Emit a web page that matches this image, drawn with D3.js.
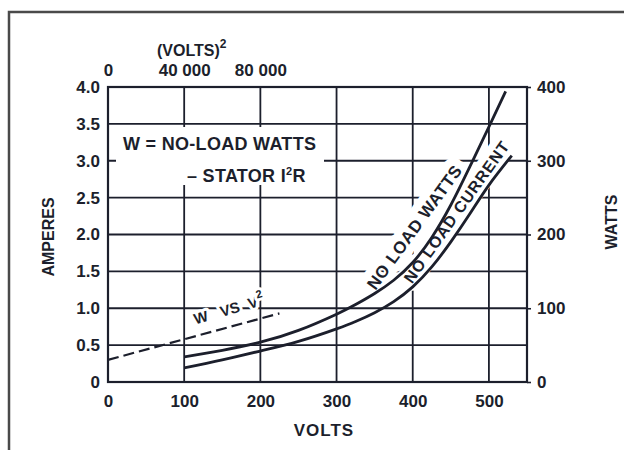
<!DOCTYPE html>
<html>
<head>
<meta charset="utf-8">
<script src="https://cdn.jsdelivr.net/npm/d3@7"></script>
<style>
body { margin: 0; background: #fff; }
text { font-family: "Liberation Sans", Arial, sans-serif; font-weight: bold; fill: #1c1f2c; }
</style>
</head>
<body>
<script>
// readings
var wattsVolts = [100, 150, 200, 250, 300, 325, 350, 375, 400, 425, 450, 475, 500, 522];
var noLoadWatts = [34, 43, 54, 70, 92, 105, 120, 138, 162, 196, 240, 292, 346, 394];
var currentVolts = [100, 150, 200, 250, 300, 325, 350, 375, 400, 425, 450, 475, 500, 530];
var noLoadAmps = [0.19, 0.30, 0.42, 0.55, 0.72, 0.82, 0.94, 1.09, 1.29, 1.56, 1.9, 2.28, 2.67, 3.07];
var voltsSquared = [0, 90000];
var correctedWatts = [30, 93];

var voltTicks = [0, 100, 200, 300, 400, 500];
var ampTicks = [0, 0.5, 1, 1.5, 2, 2.5, 3, 3.5, 4];
var wattTicks = [0, 100, 200, 300, 400];
var squareTicks = [0, 40000, 80000];
var squareLabels = ["0", "40 000", "80 000"];

var ink = "#1c1f2c";
var W = 624, H = 450;
var pLeft = 108, pRight = 527, pTop = 87, pBottom = 382;

var svg = d3.select("body").append("svg")
	.attr("width", W)
	.attr("height", H);

svg.append("rect").attr("width", W).attr("height", H).attr("fill", "#fff");

var x = d3.scaleLinear().domain([0, 550]).range([pLeft, pRight]);
var xTop = d3.scaleLinear().domain([0, 220000]).range([pLeft, pRight]);
var y = d3.scaleLinear().domain([0, 4]).range([pBottom, pTop]);
var yW = d3.scaleLinear().domain([0, 400]).range([pBottom, pTop]);

// outer frame of the scan (only top and left visible)
svg.append("path")
	.attr("d", "M9,450 L9,12 L624,12")
	.attr("fill", "none")
	.attr("stroke", "#4a4a4a")
	.attr("stroke-width", 2.5);

// grid
var grid = svg.append("g").attr("stroke", ink).attr("stroke-width", 1.8);
grid.selectAll(".v").data(voltTicks.slice(1)).enter().append("line")
	.attr("x1", function(d) { return x(d); })
	.attr("x2", function(d) { return x(d); })
	.attr("y1", pTop).attr("y2", pBottom);
grid.selectAll(".h").data(ampTicks.slice(1, -1)).enter().append("line")
	.attr("x1", pLeft).attr("x2", pRight)
	.attr("y1", function(d) { return y(d); })
	.attr("y2", function(d) { return y(d); });

// legend box knocks out the grid
svg.append("rect")
	.attr("x", 116).attr("y", 127)
	.attr("width", 208).attr("height", 58)
	.attr("fill", "#fff");

svg.append("text")
	.attr("x", 123).attr("y", 150)
	.attr("font-size", 18)
	.attr("letter-spacing", 0.3)
	.text("W = NO-LOAD WATTS");
var l2 = svg.append("text")
	.attr("x", 187).attr("y", 182)
	.attr("font-size", 18)
	.attr("letter-spacing", 0.3);
l2.append("tspan").text("– STATOR I");
l2.append("tspan").attr("font-size", 11).attr("dy", -7).text("2");
l2.append("tspan").attr("dy", 7).text("R");

// linear read of a curve between its points
function interp(xs, ys, v) {
	for (var i = 1; i < xs.length; i++) {
		if (v <= xs[i]) {
			var t = (v - xs[i - 1]) / (xs[i] - xs[i - 1]);
			return ys[i - 1] + t * (ys[i] - ys[i - 1]);
		}
	}
	return ys[ys.length - 1];
}

// place a label along the chord of a curve, pushed to its upper-left side
function along(xs, ys, sy, v0, v1, offset) {
	var x0 = x(v0), y0 = sy(interp(xs, ys, v0));
	var x1 = x(v1), y1 = sy(interp(xs, ys, v1));
	var dx = x1 - x0, dy = y1 - y0, len = Math.sqrt(dx * dx + dy * dy);
	var cx = (x0 + x1) / 2 + offset * dy / len;
	var cy = (y0 + y1) / 2 - offset * dx / len;
	var ang = Math.atan2(dy, dx) * 180 / Math.PI;
	return "translate(" + cx + "," + cy + ") rotate(" + ang + ")";
}

function halo(sel, w) {
	sel.attr("stroke", "#fff")
		.attr("stroke-width", w)
		.attr("stroke-linejoin", "round")
		.attr("paint-order", "stroke");
}

var t1 = svg.append("text")
	.attr("transform", along(wattsVolts, noLoadWatts, yW, 370, 462, 13))
	.attr("text-anchor", "middle")
	.attr("y", 6)
	.attr("font-size", 17)
	.attr("letter-spacing", 0.6)
	.text("NO LOAD WATTS");
halo(t1, 16);

var t2 = svg.append("text")
	.attr("transform", along(currentVolts, noLoadAmps, y, 425, 515, 12))
	.attr("text-anchor", "middle")
	.attr("y", 6)
	.attr("font-size", 16)
	.attr("letter-spacing", 0.9)
	.text("NO LOAD CURRENT");
halo(t2, 14);

var t3 = svg.append("text")
	.attr("transform", "translate(" + xTop(46000) + "," + yW(78) + ") rotate(-16)")
	.attr("font-size", 15);
t3.append("tspan").text("W");
t3.append("tspan").attr("dx", 13).text("VS");
t3.append("tspan").attr("dx", 9).text("V");
t3.append("tspan").attr("font-size", 11).attr("dy", -8).text("2");
halo(t3, 6);

// curves
var lineW = d3.line()
	.x(function(d, i) { return x(wattsVolts[i]); })
	.y(function(d) { return yW(d); })
	.curve(d3.curveNatural);
var lineA = d3.line()
	.x(function(d, i) { return x(currentVolts[i]); })
	.y(function(d) { return y(d); })
	.curve(d3.curveNatural);
var lineV2 = d3.line()
	.x(function(d, i) { return xTop(voltsSquared[i]); })
	.y(function(d) { return yW(d); });

svg.append("path").datum(noLoadWatts)
	.attr("d", lineW)
	.attr("fill", "none").attr("stroke", ink).attr("stroke-width", 2.8);
svg.append("path").datum(noLoadAmps)
	.attr("d", lineA)
	.attr("fill", "none").attr("stroke", ink).attr("stroke-width", 2.8);
svg.append("path").datum(correctedWatts)
	.attr("d", lineV2)
	.attr("fill", "none").attr("stroke", ink).attr("stroke-width", 2.2)
	.attr("stroke-dasharray", "11,5");

// plot border
svg.append("rect")
	.attr("x", pLeft).attr("y", pTop)
	.attr("width", pRight - pLeft).attr("height", pBottom - pTop)
	.attr("fill", "none").attr("stroke", ink).attr("stroke-width", 2.2);

// axes
function styleAxis(g) {
	g.select(".domain").remove();
	g.selectAll("text").attr("font-size", 17).attr("fill", ink);
	g.selectAll("line").attr("stroke", ink).attr("stroke-width", 1.6);
}

svg.append("g")
	.attr("transform", "translate(0," + pBottom + ")")
	.call(d3.axisBottom(x).tickValues(voltTicks).tickSize(0).tickPadding(13))
	.call(styleAxis);

svg.append("g")
	.attr("transform", "translate(" + pLeft + ",0)")
	.call(d3.axisLeft(y).tickValues(ampTicks).tickSize(0).tickPadding(8)
		.tickFormat(function(d) { return d === 0 ? "0" : d.toFixed(1); }))
	.call(styleAxis);

svg.append("g")
	.attr("transform", "translate(" + pRight + ",0)")
	.call(d3.axisRight(yW).tickValues(wattTicks).tickSize(4).tickPadding(6))
	.call(styleAxis);

svg.append("g")
	.attr("transform", "translate(0," + pTop + ")")
	.call(d3.axisTop(xTop).tickValues(squareTicks).tickSize(0).tickPadding(11)
		.tickFormat(function(d, i) { return squareLabels[i]; }))
	.call(styleAxis);

// axis titles
svg.append("text")
	.attr("x", 324).attr("y", 436)
	.attr("text-anchor", "middle")
	.attr("font-size", 17)
	.attr("letter-spacing", 1)
	.text("VOLTS");

var vt = svg.append("text")
	.attr("x", 157).attr("y", 56)
	.attr("font-size", 16);
vt.append("tspan").text("(VOLTS)");
vt.append("tspan").attr("font-size", 12).attr("dy", -8).text("2");

svg.append("text")
	.attr("transform", "translate(54,237) rotate(-90)")
	.attr("text-anchor", "middle")
	.attr("font-size", 16)
	.text("AMPERES");

svg.append("text")
	.attr("transform", "translate(617,222) rotate(-90)")
	.attr("text-anchor", "middle")
	.attr("font-size", 16)
	.text("WATTS");
</script>
</body>
</html>
